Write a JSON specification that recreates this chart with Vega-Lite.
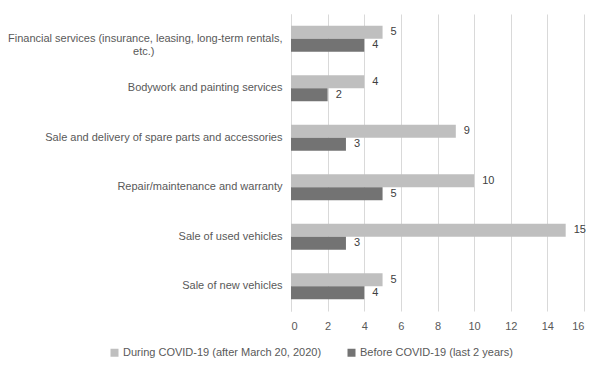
{
  "$schema": "https://vega.github.io/schema/vega-lite/v6.json",
  "autosize": {"type": "none"},
  "padding": {"left": 291, "top": 14, "right": 21, "bottom": 63},
  "width": 293,
  "height": 297,
  "background": "white",
  "config": {
    "view": {"stroke": null},
    "font": "Liberation Sans",
    "axis": {"labelFont": "Liberation Sans", "labelFontSize": 11, "labelColor": "#595959"},
    "legend": {"labelFont": "Liberation Sans", "labelFontSize": 11, "labelColor": "#595959"}
  },
  "data": {
    "values": [
      {"service": "Financial services (insurance, leasing, long-term rentals, etc.)", "period": "During COVID-19 (after March 20, 2020)", "value": 5},
      {"service": "Financial services (insurance, leasing, long-term rentals, etc.)", "period": "Before COVID-19 (last 2 years)", "value": 4},
      {"service": "Bodywork and painting services", "period": "During COVID-19 (after March 20, 2020)", "value": 4},
      {"service": "Bodywork and painting services", "period": "Before COVID-19 (last 2 years)", "value": 2},
      {"service": "Sale and delivery of spare parts and accessories", "period": "During COVID-19 (after March 20, 2020)", "value": 9},
      {"service": "Sale and delivery of spare parts and accessories", "period": "Before COVID-19 (last 2 years)", "value": 3},
      {"service": "Repair/maintenance and warranty", "period": "During COVID-19 (after March 20, 2020)", "value": 10},
      {"service": "Repair/maintenance and warranty", "period": "Before COVID-19 (last 2 years)", "value": 5},
      {"service": "Sale of used vehicles", "period": "During COVID-19 (after March 20, 2020)", "value": 15},
      {"service": "Sale of used vehicles", "period": "Before COVID-19 (last 2 years)", "value": 3},
      {"service": "Sale of new vehicles", "period": "During COVID-19 (after March 20, 2020)", "value": 5},
      {"service": "Sale of new vehicles", "period": "Before COVID-19 (last 2 years)", "value": 4}
    ]
  },
  "encoding": {
    "y": {
      "field": "service",
      "type": "nominal",
      "sort": null,
      "scale": {"paddingInner": 0.47, "paddingOuter": 0.235},
      "axis": {
        "title": null,
        "ticks": false,
        "domainColor": "#d9d9d9",
        "labelPadding": 9,
        "labelLimit": 400,
        "labelExpr": "datum.value == 'Financial services (insurance, leasing, long-term rentals, etc.)' ? ['Financial services (insurance, leasing, long-term rentals,', 'etc.)\u2800\u2800\u2800\u2800\u2800\u2800\u2800\u2800\u2800\u2800\u2800\u2800\u2800\u2800\u2800\u2800'] : datum.label"
      }
    },
    "yOffset": {
      "field": "period",
      "type": "nominal",
      "sort": ["During COVID-19 (after March 20, 2020)", "Before COVID-19 (last 2 years)"]
    },
    "x": {
      "field": "value",
      "type": "quantitative",
      "scale": {"domain": [0, 16]},
      "axis": {
        "title": null,
        "values": [0, 2, 4, 6, 8, 10, 12, 14, 16],
        "grid": true,
        "gridColor": "#d9d9d9",
        "domain": false,
        "ticks": false,
        "labelPadding": 9
      }
    }
  },
  "layer": [
    {
      "mark": {"type": "bar"},
      "encoding": {
        "color": {
          "field": "period",
          "type": "nominal",
          "sort": ["During COVID-19 (after March 20, 2020)", "Before COVID-19 (last 2 years)"],
          "scale": {"range": ["#bfbfbf", "#737373"]},
          "legend": {
            "title": null,
            "orient": "none",
            "legendX": -182,
            "legendY": 333,
            "direction": "horizontal",
            "symbolType": "square",
            "symbolSize": 64,
            "symbolStrokeWidth": 0,
            "labelOffset": 3,
            "columnPadding": 24,
            "labelLimit": 400
          }
        }
      }
    },
    {
      "mark": {"type": "text", "align": "left", "dx": 8, "fontSize": 11, "color": "#404040"},
      "encoding": {"text": {"field": "value", "type": "quantitative"}}
    }
  ]
}
